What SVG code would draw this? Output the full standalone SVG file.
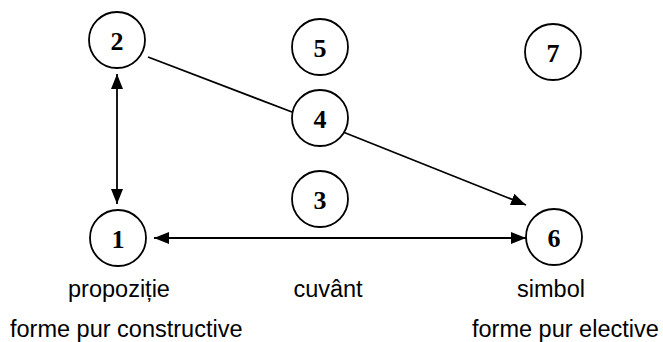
<svg xmlns="http://www.w3.org/2000/svg" width="663" height="342" viewBox="0 0 663 342">
<style>
.node circle{fill:#fff;stroke:#000;stroke-width:1.8}
.num{font-family:"Liberation Serif","Times New Roman",serif;font-weight:bold;font-size:26px;text-anchor:middle;fill:#000}
.lbl{font-family:"Liberation Sans",Arial,sans-serif;font-size:23.5px;fill:#000}
.edge{stroke:#000;stroke-width:1.8;fill:none}
</style>
<defs>
<marker id="ah" markerUnits="userSpaceOnUse" markerWidth="16" markerHeight="13" refX="15" refY="6" orient="auto-start-reverse" viewBox="0 0 16 12">
<path d="M0,0 L15,6 L0,12 z" fill="#000"/>
</marker>
</defs>
<rect width="663" height="342" fill="#fff"/>
<g id="connectors">
<line class="edge" x1="117" y1="74" x2="117" y2="204" marker-start="url(#ah)" marker-end="url(#ah)"/>
<line class="edge" x1="154" y1="238" x2="526" y2="238" marker-start="url(#ah)" marker-end="url(#ah)"/>
<line class="edge" x1="148" y1="57" x2="292" y2="112"/>
<line class="edge" x1="343" y1="132" x2="526" y2="205" marker-end="url(#ah)"/>
</g>
<g id="node1" class="node"><circle cx="118" cy="238" r="28"/><text class="num" x="118" y="247.5">1</text></g>
<g id="node2" class="node"><circle cx="117" cy="40" r="28"/><text class="num" x="117" y="49.5">2</text></g>
<g id="node3" class="node"><circle cx="320" cy="199" r="28"/><text class="num" x="320" y="208.5">3</text></g>
<g id="node4" class="node"><circle cx="320" cy="118" r="28"/><text class="num" x="320" y="127.5">4</text></g>
<g id="node5" class="node"><circle cx="320" cy="47" r="28"/><text class="num" x="320" y="56.5">5</text></g>
<g id="node6" class="node"><circle cx="554" cy="237" r="28"/><text class="num" x="554" y="246.5">6</text></g>
<g id="node7" class="node"><circle cx="553" cy="52" r="28"/><text class="num" x="553" y="61.5">7</text></g>
<g id="labels">
<text class="lbl" x="119" y="297" text-anchor="middle">propoziție</text>
<text class="lbl" x="328" y="297" text-anchor="middle">cuvânt</text>
<text class="lbl" x="551" y="297" text-anchor="middle">simbol</text>
<text class="lbl" x="10" y="337">forme pur constructive</text>
<text class="lbl" x="472" y="337">forme pur elective</text>
</g>
</svg>
